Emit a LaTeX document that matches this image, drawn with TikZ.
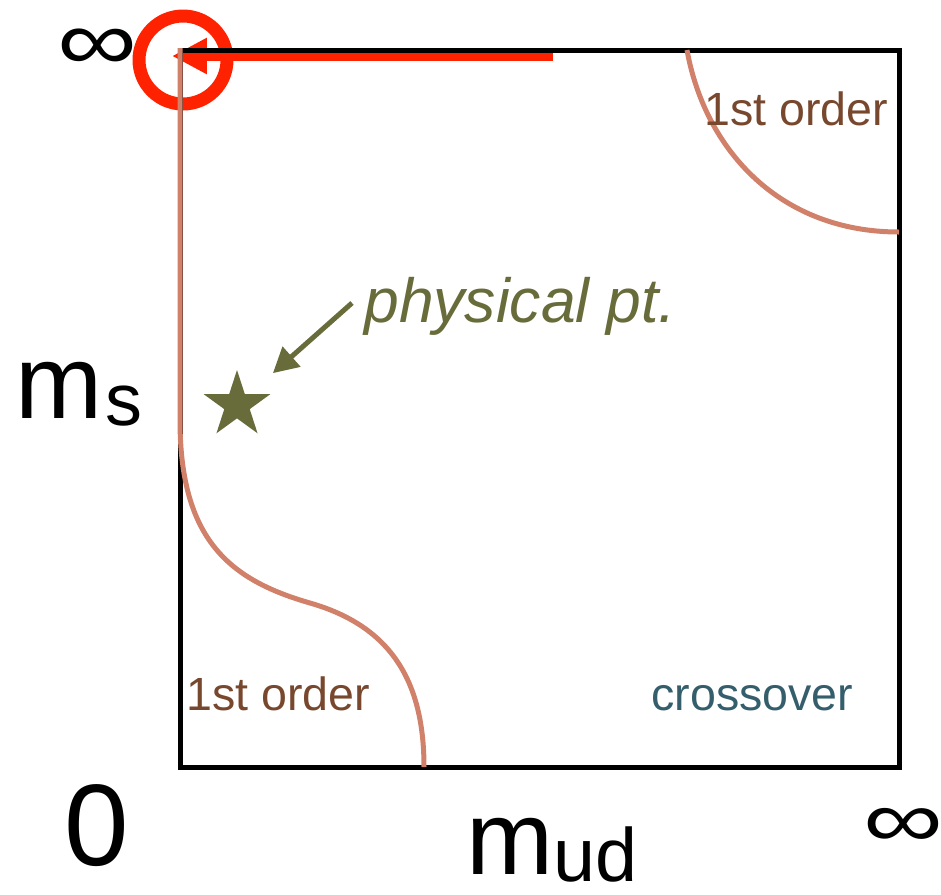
\documentclass[tikz,border=0pt]{standalone}
\usepackage{fontspec}
\setmainfont{Liberation Sans}
\usetikzlibrary{arrows.meta,shapes.geometric}
\definecolor{LimitRed}{RGB}{255,34,0}
\definecolor{LineSalmon}{RGB}{209,128,105}
\definecolor{OrderBrown}{RGB}{120,72,46}
\definecolor{CrossTeal}{RGB}{52,94,108}
\definecolor{PhysOlive}{RGB}{104,108,58}

\begin{document}
\begin{tikzpicture}[x=0.02cm,y=-0.02cm,
    frame/.style={draw=black,line width=0.1cm},
    transition/.style={draw=LineSalmon,line width=0.1cm},
    phasetxt/.style={anchor=base west,inner sep=0pt,
                     font=\fontsize{26.5}{30}\selectfont},
    axistxt/.style={anchor=base west,inner sep=0pt,
                    font=\fontsize{59.5}{62}\selectfont},
    inftxt/.style={inner sep=0pt,font=\fontsize{58}{60}\selectfont}
  ]
  \useasboundingbox (0,0) rectangle (941,894);
  % limit marker at the top left corner
  \node[circle,draw=LimitRed,line width=0.26cm,minimum size=1.76cm,
        inner sep=0pt] (lim) at (183,60) {};
  \coordinate (tail) at (553,56);
  \coordinate (tip) at (172,56);
  \draw[LimitRed,line width=0.18cm,
        -{Triangle[length=0.7cm,width=0.68cm]}] (tail) -- (tip);
  % the plane
  \coordinate (o) at (180,767);
  \coordinate (tr) at (899,50);
  \draw[frame] (o) rectangle (tr);
  % transition lines
  \coordinate (lt) at (180,48);
  \coordinate (lm) at (180,420);
  \coordinate (lk) at (310,603);
  \coordinate (bx) at (424,767);
  \draw[transition] (lt) -- (lm)
    .. controls (180,540) and (230,580) .. (lk)
    .. controls (390,626) and (424,680) .. (bx);
  \coordinate (tt) at (687,50);
  \coordinate (rr) at (899,232);
  \draw[transition] (tt) .. controls (705,150) and (780,232) .. (rr);
  % regions
  \node[phasetxt,text=OrderBrown] (ordlow) at (186,710) {1st order};
  \node[phasetxt,text=OrderBrown] (ordhigh) at (704,125) {1st order};
  \node[phasetxt,text=CrossTeal] (xover) at (651,710) {crossover};
  % physical point
  \node[star,star points=5,star point ratio=2.618,fill=PhysOlive,
        minimum size=1.4cm,inner sep=0pt] (phys) at (237,405) {};
  \node[anchor=base west,inner sep=0pt,text=PhysOlive,
        font=\itshape\fontsize{35.5}{38}\selectfont] (physlbl) at (364,322)
    {physical pt.};
  \coordinate (pa) at (352,303);
  \draw[PhysOlive,line width=0.1cm,shorten >=0.96cm,
        -{Triangle[length=0.5cm,width=0.52cm]}] (pa) -- (phys.center);
  % axes
  \node[axistxt] (ms) at (15,418)
    {m\hspace{2pt}\raisebox{-4pt}{\fontsize{42}{44}\selectfont s}};
  \node[axistxt,text depth=0pt] (mud) at (466,874)
    {m\raisebox{-4pt}{\fontsize{43}{45}\selectfont ud}};
  \node[anchor=base west,inner sep=0pt,font=\fontsize{66}{68}\selectfont]
    (zero) at (64,865) {0};
  \node[inftxt] (inftop) at (97,50) {\scalebox{1.1}[0.85]{∞}};
  \node[inftxt] (infright) at (903,828) {\scalebox{1.1}[0.8]{∞}};
\end{tikzpicture}
\end{document}
